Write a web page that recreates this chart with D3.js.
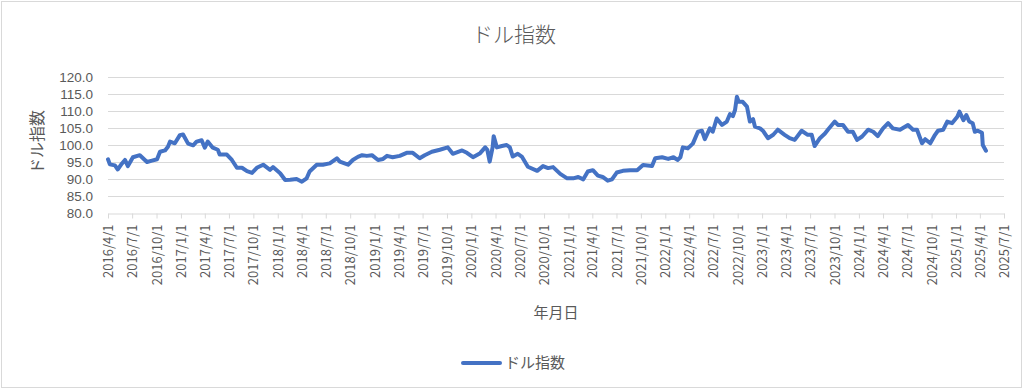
<!DOCTYPE html>
<html>
<head>
<meta charset="utf-8">
<script src="https://cdn.jsdelivr.net/npm/d3@7"></script>
<style>
  body { margin: 0; background: #fff; }
  svg text { font-family: "Noto Sans CJK JP", "Noto Sans", sans-serif; fill: #595959; }
  .axis--y text { font-family: "Liberation Sans", "DejaVu Sans", sans-serif; }
</style>
</head>
<body>
<svg id="chart" width="1024" height="390"></svg>
<script>
// dollar index
var dates = [
  "2016-04-01","2016-04-08","2016-04-27","2016-05-08","2016-05-23","2016-06-04","2016-06-15","2016-07-04",
  "2016-07-30","2016-08-26","2016-09-14","2016-10-03","2016-10-14","2016-11-02","2016-11-13","2016-11-21",
  "2016-12-09","2016-12-28","2017-01-09","2017-01-28","2017-02-16","2017-03-01","2017-03-20","2017-04-01",
  "2017-04-12","2017-05-01","2017-05-20","2017-05-27","2017-06-23","2017-07-12","2017-07-31","2017-08-19",
  "2017-09-07","2017-09-26","2017-10-14","2017-11-07","2017-12-03","2017-12-14","2018-01-10","2018-01-29",
  "2018-02-17","2018-03-13","2018-04-02","2018-04-20","2018-05-01","2018-05-28","2018-06-20","2018-07-16",
  "2018-08-12","2018-08-23","2018-09-23","2018-10-11","2018-10-30","2018-11-15","2018-12-03","2018-12-22",
  "2019-01-14","2019-02-02","2019-02-17","2019-03-10","2019-04-06","2019-05-02","2019-05-25","2019-06-20",
  "2019-07-09","2019-08-05","2019-09-04","2019-10-04","2019-10-23","2019-11-27","2019-12-15","2020-01-07",
  "2020-02-03","2020-02-22","2020-03-01","2020-03-10","2020-03-21","2020-03-25","2020-04-06","2020-04-25",
  "2020-05-13","2020-05-25","2020-06-05","2020-06-24","2020-07-09","2020-08-01","2020-09-05","2020-09-27",
  "2020-10-16","2020-11-04","2020-12-01","2020-12-27","2021-01-19","2021-02-07","2021-02-26","2021-03-15",
  "2021-04-03","2021-04-22","2021-05-10","2021-05-29","2021-06-14","2021-07-02","2021-07-25","2021-08-21",
  "2021-09-17","2021-10-09","2021-11-12","2021-11-24","2021-12-20","2022-01-12","2022-02-01","2022-02-16",
  "2022-02-27","2022-03-08","2022-03-27","2022-04-15","2022-05-04","2022-05-19","2022-05-30","2022-06-18",
  "2022-06-29","2022-07-14","2022-08-03","2022-08-21","2022-09-02","2022-09-13","2022-09-21","2022-09-28",
  "2022-10-05","2022-10-20","2022-11-05","2022-11-16","2022-11-28","2022-12-05","2022-12-24","2023-01-04",
  "2023-01-23","2023-02-12","2023-03-01","2023-03-27","2023-04-15","2023-05-04","2023-05-30","2023-06-22",
  "2023-07-07","2023-07-18","2023-08-07","2023-08-26","2023-09-06","2023-10-02","2023-10-14","2023-11-02",
  "2023-11-21","2023-12-09","2023-12-25","2024-01-13","2024-02-05","2024-02-24","2024-03-12","2024-04-01",
  "2024-04-20","2024-05-08","2024-06-04","2024-07-04","2024-07-23","2024-08-07","2024-08-26","2024-09-07",
  "2024-09-26","2024-10-14","2024-10-25","2024-11-14","2024-11-29","2024-12-17","2025-01-06","2025-01-14",
  "2025-01-29","2025-02-09","2025-02-20","2025-03-05","2025-03-13","2025-03-24","2025-04-09","2025-04-12",
  "2025-04-24"
];
var values = [
  95.8, 94.3, 94.0, 92.8, 94.5, 95.6, 93.8, 96.4,
  97.0, 95.0, 95.4, 95.8, 98.0, 98.4, 99.5, 101.0,
  100.5, 102.9, 103.1, 100.4, 99.9, 101.0, 101.4, 99.2,
  101.0, 99.2, 98.6, 97.2, 97.2, 95.6, 93.3, 93.3,
  92.3, 91.8, 93.3, 94.2, 92.7, 93.5, 91.7, 89.7,
  89.8, 90.0, 89.2, 90.2, 92.2, 94.2, 94.2, 94.6,
  96.1, 95.1, 94.2, 95.6, 96.5, 97.0, 96.8, 97.0,
  95.6, 95.9, 96.8, 96.4, 96.8, 97.7, 97.7, 96.1,
  97.0, 98.0, 98.6, 99.3, 97.4, 98.4, 97.7, 96.4,
  97.6, 99.3, 98.6, 95.1, 99.3, 102.6, 99.3, 99.7,
  100.0, 99.3, 96.6, 97.4, 96.6, 93.6, 92.4, 93.8,
  93.2, 93.5, 91.5, 90.2, 90.2, 90.6, 89.9, 92.2,
  92.6, 91.0, 90.6, 89.5, 89.9, 91.9, 92.4, 92.6,
  92.6, 94.1, 93.8, 96.1, 96.4, 95.9, 96.4, 95.6,
  96.4, 99.3, 99.0, 100.4, 103.9, 104.2, 101.7, 104.9,
  103.9, 107.8, 105.9, 106.9, 109.1, 108.5, 110.3, 114.2,
  112.7, 112.7, 111.3, 106.9, 107.6, 105.4, 104.9, 104.2,
  102.0, 103.0, 104.5, 103.0, 102.0, 101.5, 104.2, 103.0,
  103.0, 99.7, 102.0, 103.4, 104.5, 106.9, 105.9, 105.9,
  103.9, 103.9, 101.5, 102.5, 104.5, 103.9, 102.6, 104.9,
  106.4, 104.9, 104.5, 105.9, 104.5, 104.5, 100.5, 101.7,
  100.5, 103.0, 104.2, 104.5, 106.9, 106.4, 108.3, 109.8,
  107.3, 108.8, 106.9, 106.4, 103.9, 104.2, 103.6, 100.0,
  98.3
];
var yTicks = [80, 85, 90, 95, 100, 105, 110, 115, 120];
var seriesName = "ドル指数";
var xTitle = "年月日";

var parseDate = d3.timeParse("%Y-%m-%d");
var fmtTick = function(d) {
  return d.getFullYear() + "/" + (d.getMonth() + 1) + "/" + d.getDate();
};

var data = dates.map(function(d, i) {
  return { date: parseDate(d), value: values[i] };
});

var svg = d3.select("#chart");
var margin = { left: 108, right: 20, top: 77, bottom: 177 },
  width = 1004 - margin.left,
  height = 213 - margin.top;

// outer frame
svg.append("rect")
  .attr("x", 1.5).attr("y", 1.5)
  .attr("width", 1020).attr("height", 386)
  .attr("fill", "#fff")
  .attr("stroke", "#d9d9d9");

var x = d3.scaleTime()
  .domain([new Date(2016, 3, 1), new Date(2025, 6, 1)])
  .range([0, width]);
var y = d3.scaleLinear().domain([80, 120]).range([height, 0]);

var g = svg.append("g")
  .attr("transform", "translate(" + margin.left + "," + margin.top + ")");

// gridlines
g.append("g")
  .selectAll("line")
  .data(yTicks.slice(1))
  .enter().append("line")
  .attr("x1", 0).attr("x2", width)
  .attr("y1", function(d) { return Math.round(y(d)) + 0.5; })
  .attr("y2", function(d) { return Math.round(y(d)) + 0.5; })
  .attr("stroke", "#d9d9d9")
  .attr("stroke-width", 1);

// y labels
var yAxis = d3.axisLeft(y).tickValues(yTicks).tickSize(0).tickPadding(15)
  .tickFormat(d3.format(".1f"));
g.append("g")
  .attr("class", "axis axis--y")
  .call(yAxis)
  .call(function(s) { s.select(".domain").remove(); })
  .selectAll("text")
  .attr("font-size", "13.5px")
  .attr("fill", "#595959");

// x axis
var quarters = d3.timeMonth.every(3).range(new Date(2016, 3, 1), new Date(2025, 6, 2));
var xAxis = d3.axisBottom(x).tickValues(quarters).tickSize(5).tickSizeOuter(0)
  .tickFormat(fmtTick);
var xg = g.append("g")
  .attr("class", "axis axis--x")
  .attr("transform", "translate(0," + (Math.round(height) + 0.5) + ")")
  .call(xAxis);
xg.select(".domain").attr("stroke", "#d9d9d9");
xg.selectAll(".tick line").attr("stroke", "#d9d9d9");
xg.selectAll("text")
  .attr("font-size", "13px")
  .attr("fill", "#595959")
  .attr("text-anchor", "end")
  .attr("dy", "0.35em")
  .attr("transform", "translate(0,11) rotate(-90)")
  .attr("x", 0).attr("y", 0);

// line
var line = d3.line()
  .x(function(d) { return x(d.date); })
  .y(function(d) { return y(d.value); });
g.append("path")
  .datum(data)
  .attr("fill", "none")
  .attr("stroke", "#4472c4")
  .attr("stroke-width", 4)
  .attr("stroke-linejoin", "round")
  .attr("stroke-linecap", "round")
  .attr("d", line);

// titles
svg.append("text")
  .attr("x", 514).attr("y", 42)
  .attr("text-anchor", "middle")
  .attr("font-size", "21px")
  .attr("font-weight", 300)
  .text(seriesName);

svg.append("text")
  .attr("transform", "translate(43,142) rotate(-90)")
  .attr("text-anchor", "middle")
  .attr("font-size", "16px")
  .text(seriesName);

svg.append("text")
  .attr("x", margin.left + width / 2).attr("y", 318)
  .attr("text-anchor", "middle")
  .attr("font-size", "15px")
  .text(xTitle);

// legend
var lg = svg.append("g").attr("transform", "translate(463,363)");
lg.append("line")
  .attr("x1", 0).attr("x2", 37)
  .attr("stroke", "#4472c4").attr("stroke-width", 4)
  .attr("stroke-linecap", "round");
lg.append("text")
  .attr("x", 42).attr("dy", "0.35em")
  .attr("font-size", "15px")
  .text(seriesName);
</script>
</body>
</html>
